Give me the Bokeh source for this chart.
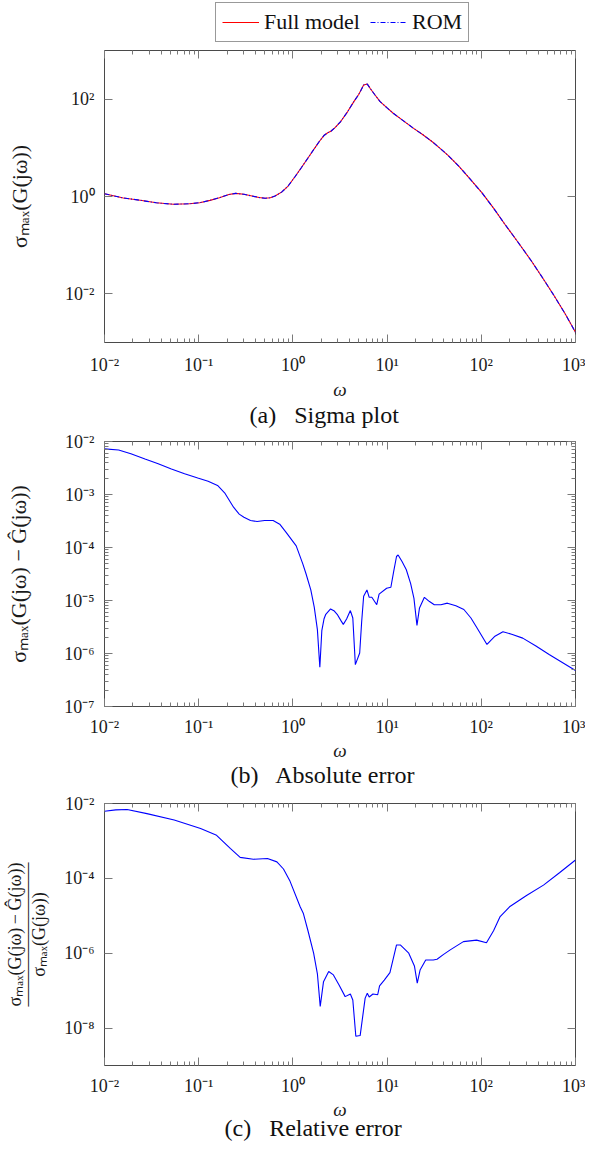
import numpy as np
from bokeh.plotting import figure
from bokeh.layouts import column
from bokeh.models import (LogAxis, FixedTicker, CustomJSTickFormatter, Legend,
                          LegendItem, Title, ColumnDataSource)
from bokeh.embed import file_html
from bokeh.resources import INLINE

FONT = "'Liberation Serif', 'Times New Roman', serif"

# ---------------- data (log10 values) ----------------
# (a) sigma plot: log10(omega), log10(sigma_max)
a_log_omega = [-2.0, -1.8, -1.62, -1.45, -1.27, -1.1, -0.99, -0.88, -0.78, -0.68,
               -0.609, -0.52, -0.434, -0.36, -0.295, -0.24, -0.19, -0.12, -0.051, 0.02,
               0.089, 0.16, 0.228, 0.28, 0.333, 0.37, 0.403, 0.45, 0.507, 0.58,
               0.647, 0.70, 0.751, 0.79, 0.821, 0.87, 0.926, 1.0, 1.065, 1.17,
               1.274, 1.38, 1.483, 1.55, 1.65, 1.763, 1.88, 2.006, 2.13, 2.25,
               2.39, 2.53, 2.65, 2.77, 2.89, 3.0]
a_log_full = [0.057, -0.03, -0.078, -0.13, -0.16, -0.15, -0.127, -0.08, -0.024, 0.04,
              0.065, 0.045, 0.01, -0.02, -0.037, -0.025, 0.01, 0.09, 0.215, 0.40,
              0.59, 0.79, 0.985, 1.13, 1.26, 1.31, 1.34, 1.42, 1.54, 1.74,
              1.95, 2.10, 2.29, 2.31, 2.22, 2.09, 1.95, 1.82, 1.71, 1.56,
              1.41, 1.27, 1.12, 1.01, 0.84, 0.62, 0.36, 0.078, -0.24, -0.57,
              -0.94, -1.32, -1.67, -2.03, -2.41, -2.79]
a_log_rom = list(a_log_full)  # visually identical to the full model

# (b) absolute error
b_log_omega = [-2.0, -1.85, -1.72, -1.57, -1.43, -1.29, -1.15, -1.01, -0.90, -0.80,
               -0.72, -0.63, -0.57, -0.52, -0.45, -0.38, -0.30, -0.21, -0.14, -0.07,
               0.035, 0.105, 0.14, 0.19, 0.227, 0.26, 0.286, 0.307, 0.33, 0.349,
               0.40, 0.44, 0.47, 0.51, 0.535, 0.57, 0.61, 0.636, 0.663, 0.709,
               0.73, 0.751, 0.786, 0.81, 0.838, 0.89, 0.915, 0.995, 1.04, 1.07,
               1.10, 1.117, 1.16, 1.204, 1.25, 1.285, 1.317, 1.344, 1.396, 1.45,
               1.501, 1.571, 1.64, 1.73, 1.815, 1.89, 1.955, 2.06, 2.14, 2.23,
               2.33, 2.44, 2.58, 2.72, 2.86, 3.0]
b_log_err = [-2.14, -2.16, -2.23, -2.33, -2.42, -2.52, -2.61, -2.69, -2.75, -2.83,
             -2.98, -3.24, -3.37, -3.43, -3.49, -3.51, -3.49, -3.49, -3.56, -3.72,
             -3.97, -4.31, -4.50, -4.80, -5.13, -5.55, -6.26, -5.57, -5.35, -5.26,
             -5.16, -5.20, -5.26, -5.38, -5.45, -5.35, -5.19, -5.33, -6.21, -5.99,
             -5.40, -4.92, -4.80, -4.94, -4.94, -5.08, -4.88, -4.77, -4.75, -4.45,
             -4.17, -4.14, -4.27, -4.42, -4.68, -4.96, -5.47, -5.14, -4.94, -5.02,
             -5.08, -5.08, -5.05, -5.10, -5.17, -5.33, -5.52, -5.83, -5.68, -5.59,
             -5.64, -5.71, -5.86, -6.02, -6.17, -6.32]

# (c) relative error
c_log_omega = [-2.0, -1.88, -1.76, -1.55, -1.26, -0.98, -0.81, -0.665, -0.56, -0.42,
               -0.27, -0.17, -0.10, -0.03, 0.077, 0.11, 0.16, 0.22, 0.26, 0.29,
               0.325, 0.38, 0.43, 0.49, 0.555, 0.61, 0.636, 0.668, 0.714, 0.767,
               0.79, 0.81, 0.85, 0.90, 0.92, 0.97, 1.03, 1.10, 1.14, 1.23,
               1.29, 1.32, 1.35, 1.41, 1.49, 1.53, 1.60, 1.67, 1.81, 1.95,
               2.055, 2.13, 2.20, 2.30, 2.48, 2.66, 2.83, 3.0]
c_log_err = [-2.205, -2.17, -2.16, -2.27, -2.44, -2.67, -2.85, -3.20, -3.44, -3.49,
             -3.47, -3.56, -3.75, -4.08, -4.76, -4.93, -5.40, -6.0, -6.55, -7.42,
             -6.76, -6.49, -6.58, -6.85, -7.16, -7.09, -7.25, -8.22, -8.20, -7.20,
             -7.07, -7.17, -7.09, -7.11, -6.87, -6.72, -6.52, -5.78, -5.78, -6.0,
             -6.34, -6.80, -6.45, -6.18, -6.18, -6.16, -6.03, -5.91, -5.69, -5.65,
             -5.72, -5.40, -5.02, -4.76, -4.46, -4.18, -3.85, -3.51]

# tick labels / positions
x_major = [1e-2, 1e-1, 1e0, 1e1, 1e2, 1e3]
ya_major = [1e-2, 1e0, 1e2]
yb_major = [1e-7, 1e-6, 1e-5, 1e-4, 1e-3, 1e-2]
yc_major = [1e-8, 1e-6, 1e-4, 1e-2]

legend_labels = ["Full model", "ROM"]
captions = ["(a)\u2002 Sigma plot", "(b)\u2002 Absolute error", "(c)\u2002 Relative error"]
x_label = "\u03c9"
ya_label = "\u03c3\u2098\u2090\u2093(G(j\u03c9))"
yb_label = "\u03c3\u2098\u2090\u2093(G(j\u03c9) \u2212 \u011c(j\u03c9))"
yc_label = ("\u03c3\u2098\u2090\u2093(G(j\u03c9)\u2009\u2212\u2009\u011c(j\u03c9))\n"
            + "\u2014" * 8 + "\n\u03c3\u2098\u2090\u2093(G(j\u03c9))")


def minor_for(lo_exp, hi_exp):
    return [m * 10.0 ** k for k in range(lo_exp, hi_exp) for m in range(2, 10)]


x_minor = minor_for(-2, 3)
yb_minor = minor_for(-7, -2)

SUP = """
const s = {'-':'\u207b','0':'\u2070','1':'\u00b9','2':'\u00b2','3':'\u00b3','4':'\u2074',
           '5':'\u2075','6':'\u2076','7':'\u2077','8':'\u2078','9':'\u2079'};
const e = Math.round(Math.log10(tick));
let out = '10';
for (const c of String(e)) { out += s[c]; }
return out;
"""

TICK_COLOR = "#7a7a7a"


def style_axis(ax, labels=True):
    ax.axis_line_color = None
    ax.major_tick_in = 8
    ax.major_tick_out = 0
    ax.minor_tick_in = 4
    ax.minor_tick_out = 0
    ax.major_tick_line_color = TICK_COLOR
    ax.minor_tick_line_color = TICK_COLOR
    ax.major_tick_line_width = 1
    ax.minor_tick_line_width = 1
    ax.formatter = CustomJSTickFormatter(code=SUP)
    if labels:
        ax.major_label_text_font = FONT
        ax.major_label_text_font_size = "18px"
        ax.major_label_text_color = "#1a1a1a"
    else:
        ax.major_label_text_font_size = "1px"
        ax.major_label_text_alpha = 0.0
        ax.major_label_standoff = 0


def make_fig(left, right, width, top, bottom, height, yr, ymaj, ymin, ylabel, ylabel_size,
             ylabel_standoff, xtick_standoff, xlabel_standoff,
             caption, cap_offset, cap_standoff, ylabel_lh=1.2):
    p = figure(x_axis_type="log", y_axis_type="log", x_range=(1e-2, 1e3), y_range=yr,
               width=width, height=height, min_border_left=left,
               min_border_right=right, min_border_top=top, min_border_bottom=bottom,
               output_backend="svg", toolbar_location=None)
    p.grid.visible = False
    p.outline_line_color = "#4a4a4a"
    p.outline_line_width = 1
    p.background_fill_color = "white"
    p.border_fill_color = "white"

    xt = FixedTicker(ticks=x_major, minor_ticks=x_minor)
    yt = FixedTicker(ticks=ymaj, minor_ticks=ymin)

    xb = p.xaxis[0]
    yl = p.yaxis[0]
    xb.ticker = xt
    yl.ticker = yt
    style_axis(xb)
    style_axis(yl)
    xb.major_label_standoff = xtick_standoff
    yl.major_label_standoff = 10

    xb.axis_label = x_label
    xb.axis_label_text_font = FONT
    xb.axis_label_text_font_size = "19px"
    xb.axis_label_text_font_style = "italic"
    xb.axis_label_standoff = xlabel_standoff
    xb.axis_label_text_color = "#1a1a1a"

    yl.axis_label = ylabel
    yl.axis_label_text_font = FONT
    yl.axis_label_text_font_size = ylabel_size
    yl.axis_label_text_font_style = "normal"
    yl.axis_label_standoff = ylabel_standoff
    yl.axis_label_text_color = "#1a1a1a"
    yl.axis_label_text_line_height = ylabel_lh

    top_axis = LogAxis(ticker=xt)
    right_axis = LogAxis(ticker=yt)
    style_axis(top_axis, labels=False)
    style_axis(right_axis, labels=False)
    p.add_layout(top_axis, "above")
    p.add_layout(right_axis, "right")

    p.add_layout(Title(text=caption, align="left", text_font=FONT,
                       text_font_size="24px", text_font_style="normal",
                       text_color="#111111", standoff=cap_standoff,
                       offset=cap_offset), "below")
    return p


src_a = ColumnDataSource(dict(w=[10.0 ** v for v in a_log_omega],
                              full=[10.0 ** v for v in a_log_full],
                              rom=[10.0 ** v for v in a_log_rom]))

# ---------------- legend strip above (a) ----------------
pl = figure(x_axis_type="log", y_axis_type="log", x_range=(1e-2, 1e3), y_range=(1e-3, 1e3),
            width=585, height=42, min_border_left=97, min_border_right=10,
            min_border_top=0, min_border_bottom=0, x_axis_location=None,
            y_axis_location=None, output_backend="svg", toolbar_location=None)
pl.grid.visible = False
pl.outline_line_color = None
lr_full = pl.line("w", "full", source=src_a, line_color="#ff0000", line_width=1.1,
                  visible=False)
lr_rom = pl.line("w", "rom", source=src_a, line_color="#0000ff", line_width=1.1,
                 line_dash="5 2 1 2", visible=False)
leg = Legend(items=[LegendItem(label=legend_labels[0], renderers=[lr_full]),
                    LegendItem(label=legend_labels[1], renderers=[lr_rom])],
             orientation="horizontal", location=(111, 0),
             label_text_font=FONT, label_text_font_size="22px",
             label_text_color="#111111", glyph_width=37, glyph_height=22,
             label_standoff=5, spacing=10, padding=6, margin=0,
             border_line_color="#333333", border_line_width=1,
             background_fill_color="white", background_fill_alpha=1.0,
             inactive_fill_alpha=0.0)
pl.add_layout(leg, "center")

# ---------------- (a) ----------------
pa = make_fig(97, 10, 585, 8, 88, 388, (1e-3, 1e3), ya_major, [], ya_label, "22px", 30,
              12, 1, captions[0], 145, -6)
pa.line("w", "full", source=src_a, line_color="#ff0000", line_width=1.1)
pa.line("w", "rom", source=src_a, line_color="#0000ff", line_width=1.1,
        line_dash="5 2 1 2")

# ---------------- (b) ----------------
pb = make_fig(99, 8, 585, 11, 86, 362, (1e-7, 1e-2), yb_major, yb_minor, yb_label, "22px", 30,
              10, 0, captions[1], 126, -8)
src_b = ColumnDataSource(dict(w=[10.0 ** v for v in b_log_omega],
                              e=[10.0 ** v for v in b_log_err]))
pb.line("w", "e", source=src_b, line_color="#0000ff", line_width=1.1)

# ---------------- (c) ----------------
pc = make_fig(104, 9, 585, 11, 84, 357, (1e-9, 1e-2), yc_major, [], yc_label, "18px", 12,
              10, 0, captions[2], 120, -20, ylabel_lh=0.6)
src_c = ColumnDataSource(dict(w=[10.0 ** v for v in c_log_omega],
                              e=[10.0 ** v for v in c_log_err]))
pc.line("w", "e", source=src_c, line_color="#0000ff", line_width=1.1)

layout = column(pl, pa, pb, pc, spacing=0)
open("out.html", "w").write(file_html(layout, INLINE))
